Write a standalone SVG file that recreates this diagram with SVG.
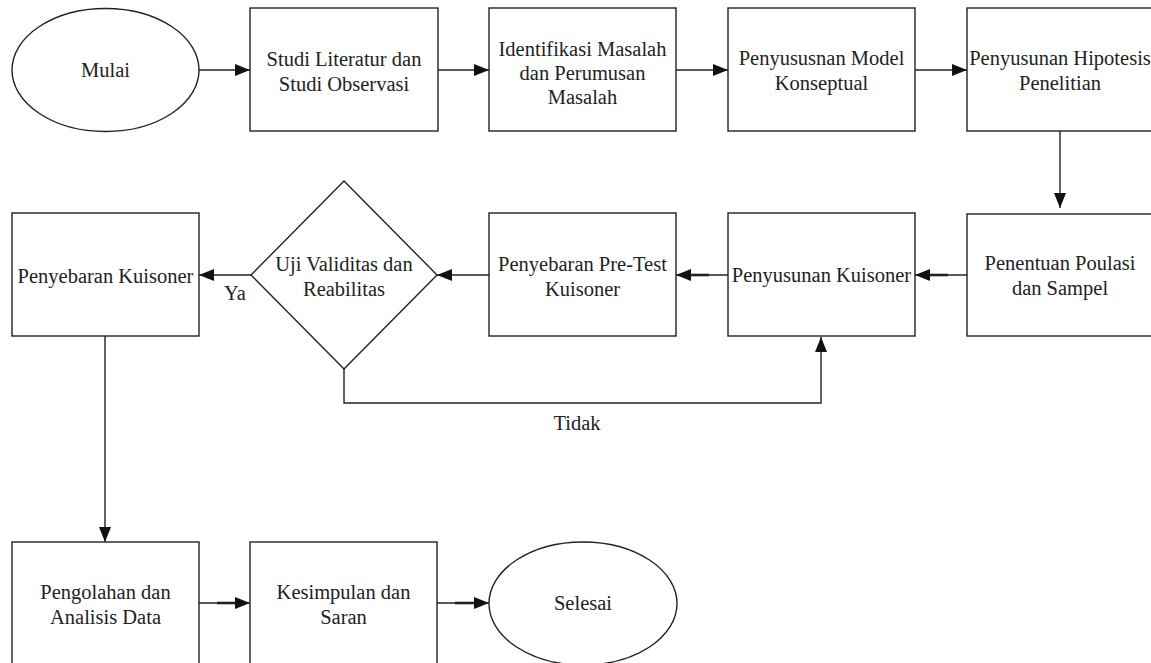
<svg xmlns="http://www.w3.org/2000/svg" width="1151" height="663" viewBox="0 0 1151 663">
<defs>
<style>
.box{fill:#fff;stroke:#222;stroke-width:1.4}
.t{font-family:"Liberation Serif","Times New Roman",serif;font-size:20.5px;fill:#222;text-anchor:middle}
.c{fill:none;stroke:#222;stroke-width:1.4}
.thick{stroke:#222;stroke-width:2.6}
</style>
<marker id="ah" markerWidth="15" markerHeight="12" refX="15" refY="6" orient="auto" markerUnits="userSpaceOnUse">
<path d="M0,0 L15,6 L0,12 z" fill="#111"/>
</marker>
</defs>
<rect width="1151" height="663" fill="#fff"/>

<g id="connectors">
<line class="c" x1="199" y1="70" x2="250" y2="70" marker-end="url(#ah)"/>
<line class="c" x1="438" y1="70" x2="489" y2="70" marker-end="url(#ah)"/>
<line class="c" x1="676" y1="70" x2="728" y2="70" marker-end="url(#ah)"/>
<line class="c" x1="915" y1="70" x2="967" y2="70" marker-end="url(#ah)"/>
<line class="c" x1="1060" y1="131" x2="1060" y2="208" marker-end="url(#ah)"/>
<line class="c" x1="967" y1="275" x2="915" y2="275" marker-end="url(#ah)"/>
<line class="thick" x1="929" y1="275" x2="948" y2="275"/>
<line class="c" x1="728" y1="275" x2="676" y2="275" marker-end="url(#ah)"/>
<line class="thick" x1="690" y1="275" x2="709" y2="275"/>
<line class="c" x1="489" y1="275" x2="437" y2="275" marker-end="url(#ah)"/>
<line class="c" x1="251" y1="275" x2="199" y2="275" marker-end="url(#ah)"/>
<path class="c" d="M344,369 V403 H821 V337" marker-end="url(#ah)"/>
<line class="c" x1="105" y1="336" x2="105" y2="542" marker-end="url(#ah)"/>
<line class="c" x1="199" y1="603" x2="250" y2="603" marker-end="url(#ah)"/>
<line class="thick" x1="217" y1="603" x2="236" y2="603"/>
<line class="c" x1="437" y1="603" x2="489" y2="603" marker-end="url(#ah)"/>
<line class="thick" x1="455" y1="603" x2="474" y2="603"/>
<text class="t" x="235" y="300">Ya</text>
<text class="t" x="577" y="430">Tidak</text>
</g>

<g id="mulai">
<ellipse class="box" cx="105.5" cy="70" rx="93.5" ry="61.5"/>
<text class="t" x="105.5" y="77">Mulai</text>
</g>
<g id="studi">
<rect class="box" x="250" y="8" width="188" height="123"/>
<text class="t" x="344" y="66">Studi Literatur dan</text>
<text class="t" x="344" y="91">Studi Observasi</text>
</g>
<g id="identifikasi">
<rect class="box" x="489" y="8" width="187" height="123"/>
<text class="t" x="582.5" y="56">Identifikasi Masalah</text>
<text class="t" x="582.5" y="80">dan Perumusan</text>
<text class="t" x="582.5" y="104">Masalah</text>
</g>
<g id="model">
<rect class="box" x="728" y="8" width="187" height="123"/>
<text class="t" x="821.5" y="65">Penyususnan Model</text>
<text class="t" x="821.5" y="90">Konseptual</text>
</g>
<g id="hipotesis">
<rect class="box" x="967" y="8" width="188" height="123"/>
<text class="t" x="1060" y="65">Penyusunan Hipotesis</text>
<text class="t" x="1060" y="90">Penelitian</text>
</g>
<g id="penentuan">
<rect class="box" x="967" y="214" width="188" height="122"/>
<text class="t" x="1060" y="270">Penentuan Poulasi</text>
<text class="t" x="1060" y="295">dan Sampel</text>
</g>
<g id="penyusunan-kuisoner">
<rect class="box" x="728" y="213" width="187" height="123"/>
<text class="t" x="821.5" y="282">Penyusunan Kuisoner</text>
</g>
<g id="pretest">
<rect class="box" x="489" y="213" width="187" height="123"/>
<text class="t" x="582.5" y="271">Penyebaran Pre-Test</text>
<text class="t" x="582.5" y="296">Kuisoner</text>
</g>
<g id="uji">
<polygon class="box" points="344,181 437,275 344,369 251,275"/>
<text class="t" x="344" y="271">Uji Validitas dan</text>
<text class="t" x="344" y="296">Reabilitas</text>
</g>
<g id="penyebaran-kuisoner">
<rect class="box" x="12" y="213" width="187" height="123"/>
<text class="t" x="105.5" y="283">Penyebaran Kuisoner</text>
</g>
<g id="pengolahan">
<rect class="box" x="12" y="542" width="187" height="123"/>
<text class="t" x="105.5" y="599">Pengolahan dan</text>
<text class="t" x="105.5" y="624">Analisis Data</text>
</g>
<g id="kesimpulan">
<rect class="box" x="250" y="542" width="187" height="123"/>
<text class="t" x="343.5" y="599">Kesimpulan dan</text>
<text class="t" x="343.5" y="624">Saran</text>
</g>
<g id="selesai">
<ellipse class="box" cx="583" cy="603.5" rx="94" ry="61.5"/>
<text class="t" x="583" y="610">Selesai</text>
</g>
</svg>
